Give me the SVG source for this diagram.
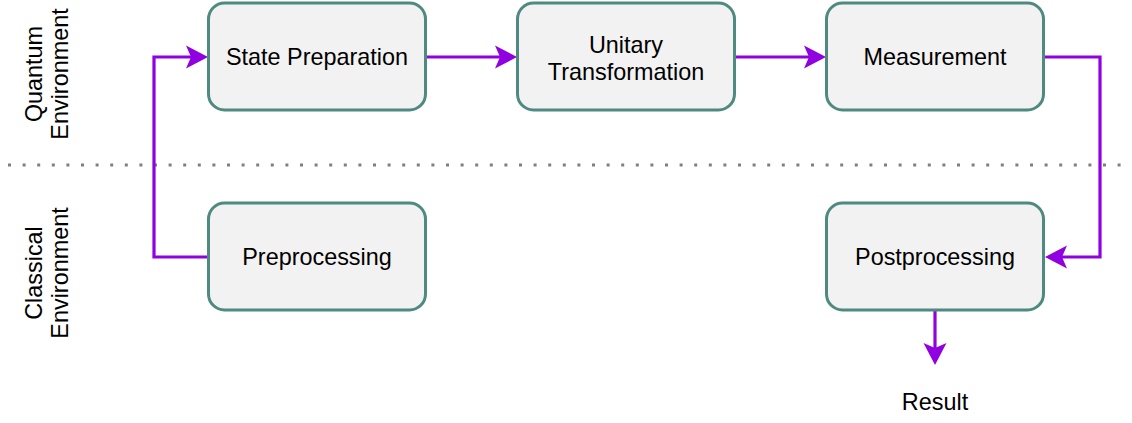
<svg xmlns="http://www.w3.org/2000/svg" width="1132" height="423" viewBox="0 0 1132 423">
  <style>
    .box { fill: #f2f2f2; stroke: #4e8a80; stroke-width: 3; }
    .label { font-family: "Liberation Sans", Arial, sans-serif; font-size: 23.4px; fill: #000; text-anchor: middle; }
    .flow { fill: none; stroke: #9000e0; stroke-width: 3.2; }
    .divider { fill: none; stroke: #808080; stroke-width: 3; stroke-dasharray: 3 11.6; }
  </style>
  <defs>
    <marker id="arrow" markerUnits="userSpaceOnUse" viewBox="-6 -12 24 24" markerWidth="24" markerHeight="24" refX="0" refY="0" orient="auto">
      <path d="M-5,-11.5 L17,0 L-5,11.5 L0,0 Z" fill="#9000e0"/>
    </marker>
  </defs>

  <rect width="1132" height="423" fill="#ffffff"/>

  <!-- boundary between quantum and classical parts -->
  <line class="divider" x1="8" y1="165" x2="1132" y2="165"/>

  <!-- environment labels -->
  <text class="label" transform="translate(42,74) rotate(-90)"><tspan x="0" y="0">Quantum</tspan><tspan x="0" y="26">Environment</tspan></text>
  <text class="label" transform="translate(42,273) rotate(-90)"><tspan x="0" y="0">Classical</tspan><tspan x="0" y="26">Environment</tspan></text>

  <!-- connectors -->
  <g id="connectors">
    <path class="flow" d="M208.5,257 H154 V57 H191" marker-end="url(#arrow)"/>
    <path class="flow" d="M426,57 H500" marker-end="url(#arrow)"/>
    <path class="flow" d="M735,57 H809" marker-end="url(#arrow)"/>
    <path class="flow" d="M1045,57 H1100 V257 H1062" marker-end="url(#arrow)"/>
    <path class="flow" d="M935,311 V348" marker-end="url(#arrow)"/>
  </g>

  <g id="state-preparation">
    <rect class="box" x="208.5" y="3" width="217" height="107" rx="16"/>
    <text class="label" x="317" y="65">State Preparation</text>
  </g>
  <g id="unitary-transformation">
    <rect class="box" x="517.5" y="3" width="217" height="107" rx="16"/>
    <text class="label" x="626" y="53">Unitary</text>
    <text class="label" x="626" y="80">Transformation</text>
  </g>
  <g id="measurement">
    <rect class="box" x="826.5" y="3" width="217" height="107" rx="16"/>
    <text class="label" x="935" y="65">Measurement</text>
  </g>
  <g id="preprocessing">
    <rect class="box" x="208.5" y="203" width="217" height="107" rx="16"/>
    <text class="label" x="317" y="265">Preprocessing</text>
  </g>
  <g id="postprocessing">
    <rect class="box" x="826.5" y="203" width="217" height="107" rx="16"/>
    <text class="label" x="935" y="265">Postprocessing</text>
  </g>
  <g id="result">
    <text class="label" x="935" y="410">Result</text>
  </g>
</svg>
